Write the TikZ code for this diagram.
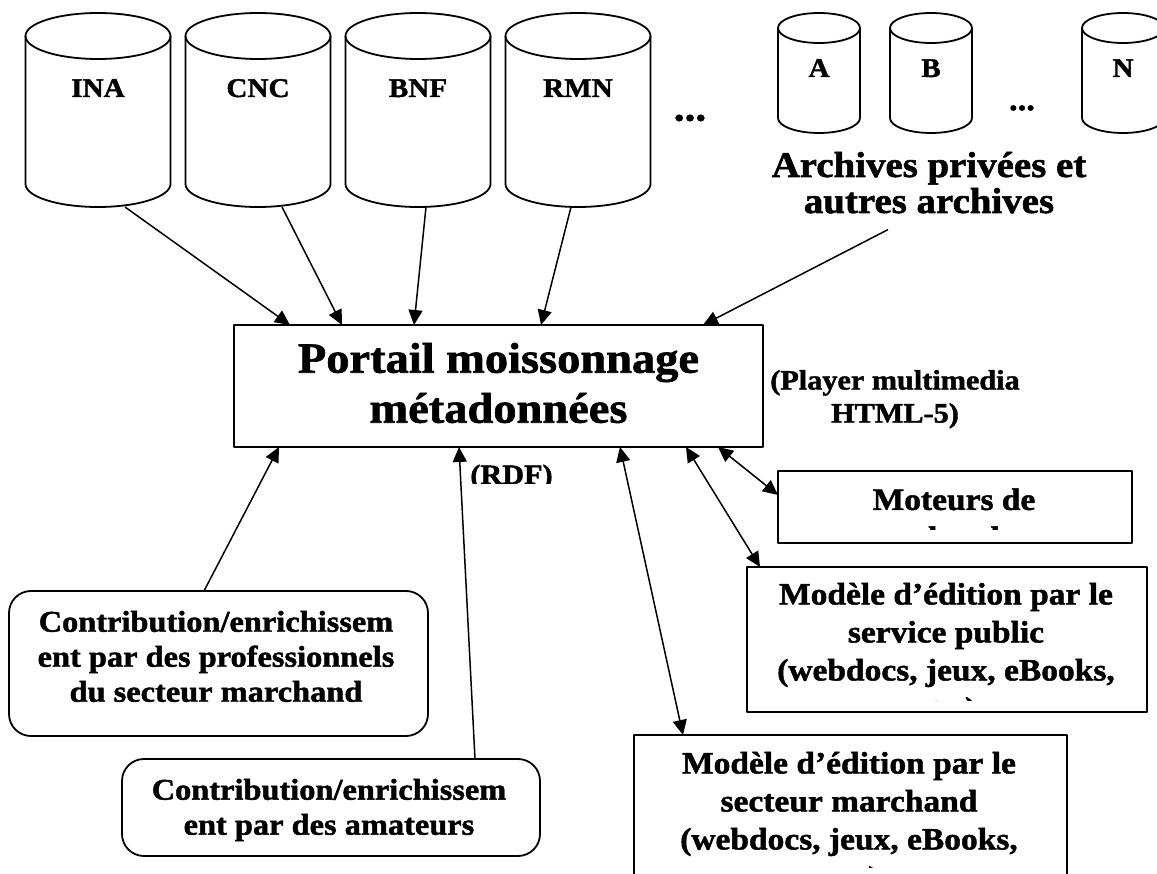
\documentclass[tikz,border=0pt]{standalone}
\usepackage{fontspec}
\setmainfont{Liberation Serif}[FakeStretch=1.08,BoldFeatures={FakeBold=1.5}]
\usetikzlibrary{arrows.meta}
\tikzset{box/.style={draw,line width=2.2pt,inner sep=0pt,outer sep=0pt}}
\tikzset{rbox/.style={box,rounded corners=22pt,line width=1.8pt}}
\tikzset{txt/.style={inner sep=0pt,align=center}}
\tikzset{cf/.style={font=\bfseries\fontsize{27}{27}\selectfont}}
\tikzset{pf/.style={font=\bfseries\fontsize{43}{50}\selectfont}}
\tikzset{bf/.style={font=\bfseries\fontsize{30}{35}\selectfont}}
\tikzset{mf/.style={font=\bfseries\fontsize{31}{38}\selectfont}}
\tikzset{nf/.style={font=\bfseries\fontsize{28}{33}\selectfont}}
\tikzset{af/.style={font=\bfseries\fontsize{36}{36}\selectfont}}
\tikzset{arr/.style={line width=1.5pt,-{Triangle[length=15pt,width=14pt]}}}
\tikzset{darr/.style={line width=1.5pt,{Triangle[length=15pt,width=14pt]}-{Triangle[length=15pt,width=14pt]}}}
% name, x, y, width, height, ry
\newcommand{\drum}[6]{%
  \node[minimum width=#4pt,minimum height=#5pt,inner sep=0pt,outer sep=0pt] (#1) at (#2,#3) {};
  \draw[line width=1.8pt] ([yshift=-#6pt]#1.north) ellipse [x radius=#4pt/2,y radius=#6pt];
  \draw[line width=1.8pt] ([yshift=-#6pt]#1.north west) -- ([yshift=#6pt]#1.south west)
    arc [start angle=180,end angle=360,x radius=#4pt/2,y radius=#6pt] -- ([yshift=-#6pt]#1.north east);}

\begin{document}
\begin{tikzpicture}[x=1pt,y=-1pt,line join=round]
  \clip (0,0) rectangle (1157,874);
  % archives publiques
  \drum{ina}{98}{110}{145}{194}{23}
  \drum{cnc}{258}{110}{145}{194}{23}
  \drum{bnf}{418}{110}{145}{194}{23}
  \drum{rmn}{578}{110}{145}{194}{23}
  \node[txt,cf,anchor=base] (inat) at (98,97) {INA};
  \node[txt,cf,anchor=base] (cnct) at (258,97) {CNC};
  \node[txt,cf,anchor=base] (bnft) at (418,97) {BNF};
  \node[txt,cf,anchor=base] (rmnt) at (578,97) {RMN};
  \node[txt,font=\bfseries\fontsize{40}{40}\selectfont] (dots) at (690,118) {...};
  % archives privees
  \drum{arA}{819}{73}{82}{120}{15}
  \drum{arB}{931}{73}{82}{120}{15}
  \drum{arN}{1123}{73}{82}{120}{15}
  \node[txt,cf,anchor=base] (arAt) at (819,77) {A};
  \node[txt,cf,anchor=base] (arBt) at (931,77) {B};
  \node[txt,cf,anchor=base] (arNt) at (1123,77) {N};
  \node[txt,font=\bfseries\fontsize{32}{32}\selectfont] (dots2) at (1022,108) {...};
  \begin{scope}
    \clip (700,140) rectangle (1157,217);
    \node[txt,af] (arch) at (929,182.7) {Archives privées et\\autres archives};
  \end{scope}
  % portail
  \node[box,minimum width=529pt,minimum height=122pt] (portal) at (498.5,386) {};
  \node[txt,pf] (portalt) at (498.5,383) {Portail moissonnage\\métadonnées};
  \node[txt,nf] (player) at (895,399.3) {(Player multimedia\\HTML-5)};
  \begin{scope}
    \clip (440,455) rectangle (600,483);
    \node[txt,nf,anchor=base] (rdf) at (511.5,484) {(RDF)};
  \end{scope}
  % boites du bas
  \node[box,minimum width=354pt,minimum height=72pt] (mot) at (955,507) {};
  \begin{scope}
    \clip (778,471) rectangle (1132,529);
    \node[txt,mf] (mott) at (954,518.3) {Moteurs de\\recherche};
  \end{scope}
  \node[box,minimum width=400pt,minimum height=145pt] (pub) at (947,639.5) {};
  \begin{scope}
    \clip (747,567) rectangle (1147,700);
    \node[txt,mf] (pubt) at (946,654) {Modèle d’édition par le\\service public\\(webdocs, jeux, eBooks,\\etc.)};
  \end{scope}
  \node[box,minimum width=433pt,minimum height=200pt] (mar) at (850.5,835) {};
  \begin{scope}
    \clip (634,735) rectangle (1067,867);
    \node[txt,mf] (mart) at (849,823) {Modèle d’édition par le\\secteur marchand\\(webdocs, jeux, eBooks,\\etc.)};
  \end{scope}
  \node[rbox,minimum width=419pt,minimum height=145pt] (pro) at (218.5,663.5) {};
  \node[txt,bf] (prot) at (216,656.5) {Contribution/enrichissem\\ent par des professionnels\\du secteur marchand};
  \node[rbox,minimum width=418pt,minimum height=97pt] (ama) at (331,807.5) {};
  \node[txt,bf] (amat) at (329,810) {Contribution/enrichissem\\ent par des amateurs};
  % fleches
  \draw[arr] ([xshift=27pt]ina.south) -- ([xshift=56pt]portal.north west);
  \draw[arr] ([xshift=24pt]cnc.south) -- ([xshift=108pt]portal.north west);
  \draw[arr] ([xshift=8pt]bnf.south) -- ([xshift=180pt]portal.north west);
  \draw[arr] ([xshift=-7pt]rmn.south) -- ([xshift=307pt]portal.north west);
  \draw[arr] ([xshift=-41pt,yshift=-16pt]arch.south) -- ([xshift=-60pt]portal.north east);
  \draw[arr] ([xshift=-14.5pt]pro.north) -- ([xshift=45pt]portal.south west);
  \draw[arr] ([xshift=144pt]ama.north) -- ([xshift=225pt]portal.south west);
  \draw[darr] ([xshift=386pt]portal.south west) -- ([xshift=49pt]mar.north west);
  \draw[darr] ([xshift=452pt]portal.south west) -- ([xshift=13pt]pub.north west);
  \draw[darr] ([xshift=484pt]portal.south west) -- ([yshift=12pt]mot.west);
\end{tikzpicture}
\end{document}
